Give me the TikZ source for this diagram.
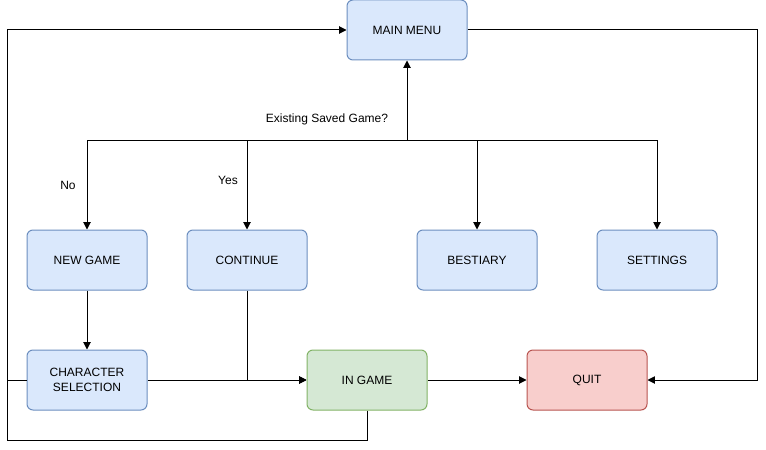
\documentclass[tikz,border=0pt]{standalone}
\usepackage{fontspec}
\setmainfont{Liberation Sans}
\usetikzlibrary{arrows.meta}
\definecolor{bfill}{HTML}{DAE8FC}\definecolor{bdraw}{HTML}{6C8EBF}
\definecolor{gfill}{HTML}{D5E8D4}\definecolor{gdraw}{HTML}{82B366}
\definecolor{rfill}{HTML}{F8CECC}\definecolor{rdraw}{HTML}{B85450}
\tikzset{
  box/.style={draw=bdraw,fill=bfill,rounded corners=4.5pt,minimum width=90pt,minimum height=45pt,inner sep=0pt,align=center,font=\fontsize{9}{11}\selectfont,line width=0.75pt},
  gbox/.style={box,draw=gdraw,fill=gfill},
  rbox/.style={box,draw=rdraw,fill=rfill},
  arr/.style={line width=0.75pt,-{Triangle[length=5.5pt,width=5.5pt]}},
  ln/.style={line width=0.75pt},
  lbl/.style={font=\fontsize{9}{11}\selectfont,inner sep=0pt}
}
\begin{document}
\begin{tikzpicture}[x=0.75pt,y=-0.75pt]
\useasboundingbox (0,0) rectangle (766,449);
\node[box] (main) at (407,30) {MAIN MENU};
\node[box] (new) at (87,260) {NEW GAME};
\node[box] (cont) at (247,260) {CONTINUE};
\node[box] (best) at (477,260) {BESTIARY};
\node[box] (set) at (657,260) {SETTINGS};
\node[box] (cs) at (87,380) {CHARACTER\\SELECTION};
\node[gbox] (ig) at (367,380) {IN GAME};
\node[rbox] (quit) at (587,380) {QUIT};
\coordinate (hub) at (407,140);
\coordinate (R) at (757,30);
\coordinate (L) at (7,440);
\node[lbl] (q) at (327,119) {Existing Saved Game?};
\node[lbl] (no) at (68,185) {No};
\node[lbl] (yes) at (228,180) {Yes};
\draw[arr] (hub) -- (main.south);
\draw[arr] (hub) -| (new.north);
\draw[arr] (hub) -| (cont.north);
\draw[arr] (hub) -| (best.north);
\draw[arr] (hub) -| (set.north);
\draw[arr] (new) -- (cs);
\draw[arr] (cs.east) -- (ig.west);
\draw[arr] (cont.south) |- (ig.west);
\draw[arr] (ig) -- (quit);
\draw[arr] (main.east) -- (R) |- (quit.east);
\draw[arr] (ig.south) |- (L) |- (main.west);
\draw[ln] (cs.west) -- (cs.west -| L);
\end{tikzpicture}
\end{document}
